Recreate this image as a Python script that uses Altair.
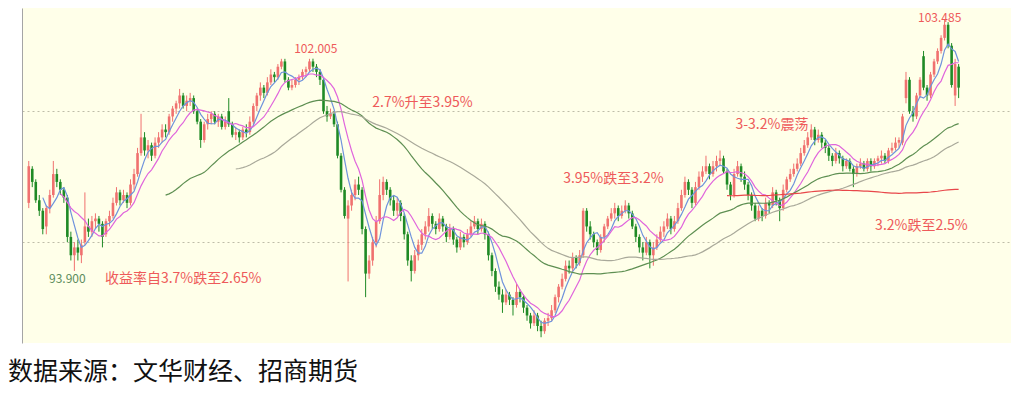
import altair as alt
import pandas as pd
import numpy as np

# ---- candle data (price), one entry per trading day ----
open_ = [
    96.5, 97.8, 97.3, 96.6, 96.2, 95.6, 96.3, 96.8, 97.6, 97.3,
    97.0, 96.7, 95.2, 94.5, 94.8, 94.5, 95.0, 95.6, 95.4, 95.8,
    95.9, 95.7, 95.3, 95.8, 96.0, 96.5, 96.9, 96.6, 96.8, 96.5,
    97.2, 97.6, 98.4, 99.0, 98.5, 98.7, 98.3, 98.8, 99.0, 99.3,
    99.2, 99.8, 100.1, 100.3, 100.6, 100.2, 100.4, 100.5, 100.0, 99.6,
    98.9, 99.5, 99.7, 99.9, 99.6, 99.8, 99.4, 100.0, 99.5, 99.1,
    99.2, 99.0, 99.3, 99.2, 99.6, 100.2, 100.6, 100.9, 100.7, 101.1,
    101.4, 101.3, 101.7, 101.9, 101.2, 100.9, 101.0, 101.2, 101.3, 101.5,
    101.6, 101.9, 101.7, 101.5, 101.2, 100.0, 99.8, 99.9, 99.5, 98.3,
    97.0, 95.9, 96.4, 96.8, 97.2, 97.0, 95.5, 93.8, 94.3, 95.0,
    95.8, 96.8, 97.3, 97.0, 96.6, 96.2, 96.5, 96.0, 95.3, 94.3,
    93.9, 94.5, 94.9, 95.3, 95.6, 96.0, 95.7, 95.5, 95.9, 95.6,
    95.2, 95.5, 95.1, 94.8, 95.2, 95.0, 95.3, 95.6, 95.8, 95.5,
    95.7, 95.3, 94.5, 93.9, 93.3, 93.0, 92.7, 93.0, 92.8, 92.6,
    93.1, 92.9, 92.5, 92.2, 91.9, 92.2, 91.8, 91.6, 92.0, 92.1,
    92.4, 92.9, 93.3, 93.6, 94.1, 94.0, 94.4, 94.2, 94.5, 96.2,
    95.6, 95.3, 95.0, 94.7, 95.2, 95.6, 95.9, 96.1, 96.3, 96.0,
    96.2, 96.4, 96.1, 95.6, 95.2, 94.8, 94.6, 95.0, 94.5, 94.8,
    95.1, 95.4, 95.6, 95.9, 95.5, 95.8, 96.3, 96.8, 97.3, 97.0,
    96.5, 97.1, 97.5, 97.7, 97.9, 97.6, 97.9, 98.1, 98.2, 97.7,
    97.2, 96.8, 97.6, 97.9, 97.5, 97.2, 96.8, 96.4, 95.9, 96.2,
    96.0, 96.5, 96.4, 96.9, 96.6, 96.3, 97.0, 97.4, 97.6, 97.8,
    98.0, 98.4, 98.7, 99.0, 99.3, 98.9, 99.1, 98.8, 98.6, 98.3,
    98.1, 98.4, 98.2, 97.9, 98.1, 97.8, 97.6, 97.9, 98.0, 97.8,
    98.1, 97.9, 98.1, 98.2, 98.3, 98.1, 98.5, 98.6, 98.8, 98.8,
    100.5, 101.2, 100.0, 99.8, 100.6, 102.1, 100.9, 100.6, 101.4, 101.9,
    102.3, 102.8, 103.3, 102.5, 100.6, 101.7,
]
high = [
    98.1, 97.9, 97.4, 96.8, 96.3, 96.4, 97.0, 98.1, 97.8, 97.4,
    97.1, 96.8, 95.4, 95.0, 95.1, 95.1, 96.9, 95.9, 96.0, 96.1,
    96.0, 95.8, 95.9, 96.2, 96.7, 97.1, 97.0, 97.0, 96.9, 97.4,
    97.8, 98.6, 99.9, 99.2, 98.9, 98.8, 99.0, 99.2, 99.5, 99.5,
    99.9, 100.2, 100.4, 100.85, 100.7, 100.6, 100.7, 100.6, 100.1, 99.7,
    99.6, 99.9, 100.0, 100.0, 99.9, 99.9, 99.8, 100.5, 99.6, 99.4,
    99.3, 99.4, 99.5, 99.8, 100.3, 100.7, 101.1, 101.0, 101.3, 101.6,
    101.5, 101.8, 102.0, 102.0, 101.3, 101.2, 101.3, 101.4, 101.6, 101.7,
    102.0, 102.005, 101.8, 101.6, 101.3, 100.2, 100.1, 100.0, 99.6, 98.4,
    97.1, 96.6, 97.0, 97.4, 97.5, 97.1, 95.6, 94.5, 95.2, 96.0,
    97.4, 97.5, 97.4, 97.1, 96.8, 96.7, 96.6, 96.1, 95.4, 94.5,
    94.7, 95.1, 95.5, 95.8, 96.3, 96.1, 95.8, 96.1, 96.0, 95.7,
    95.7, 95.6, 95.2, 95.4, 95.3, 95.5, 95.8, 96.0, 95.9, 95.9,
    95.8, 95.4, 94.6, 94.0, 93.5, 93.2, 93.2, 93.1, 92.9, 93.4,
    93.2, 93.0, 92.6, 92.3, 92.4, 92.3, 92.0, 92.1, 92.3, 92.6,
    93.0, 93.4, 93.8, 94.3, 94.3, 94.6, 94.5, 94.7, 96.3, 96.3,
    95.8, 95.4, 95.1, 95.3, 95.7, 96.0, 96.3, 96.5, 96.4, 96.4,
    96.6, 96.5, 96.2, 95.7, 95.3, 95.0, 95.2, 95.1, 95.0, 95.3,
    95.6, 95.8, 96.1, 96.0, 96.0, 96.5, 97.0, 97.5, 97.4, 97.1,
    97.3, 97.7, 97.9, 98.3, 98.0, 98.1, 98.3, 98.5, 98.3, 97.8,
    97.3, 97.8, 98.1, 98.0, 97.7, 97.3, 96.9, 96.5, 96.4, 96.3,
    96.7, 96.6, 97.1, 97.0, 96.7, 97.2, 97.5, 97.8, 98.0, 98.2,
    98.6, 98.9, 99.2, 99.5, 99.4, 99.3, 99.2, 98.9, 98.7, 98.4,
    98.6, 98.5, 98.3, 98.2, 98.2, 97.9, 98.0, 98.2, 98.1, 98.2,
    98.2, 98.2, 98.3, 98.5, 98.4, 98.6, 98.8, 99.0, 99.0, 99.9,
    101.5, 101.3, 100.2, 100.7, 101.3, 102.3, 101.0, 101.5, 102.0, 102.4,
    102.9, 103.485, 103.4, 102.6, 102.0, 101.8,
]
low = [
    96.3, 97.1, 96.5, 96.0, 95.3, 95.3, 96.1, 96.7, 97.1, 96.8,
    96.5, 95.0, 94.3, 93.9, 94.3, 94.2, 94.9, 95.2, 95.2, 95.5,
    95.4, 94.8, 95.2, 95.6, 95.9, 96.4, 96.4, 96.5, 96.3, 96.4,
    97.0, 97.5, 98.3, 98.3, 98.2, 98.1, 98.2, 98.6, 98.8, 99.0,
    99.1, 99.6, 99.9, 100.1, 100.1, 100.0, 100.2, 99.9, 99.5, 98.6,
    98.8, 99.3, 99.5, 99.5, 99.4, 99.3, 99.3, 99.4, 99.0, 98.9,
    98.8, 98.9, 99.0, 99.1, 99.5, 100.0, 100.4, 100.5, 100.6, 101.0,
    101.1, 101.2, 101.6, 101.1, 100.8, 100.8, 100.9, 101.0, 101.2, 101.3,
    101.5, 101.5, 101.3, 101.0, 99.9, 99.6, 99.7, 99.4, 98.2, 96.9,
    95.9, 93.5, 96.2, 96.6, 96.8, 95.3, 92.9, 93.6, 94.1, 94.8,
    95.7, 96.6, 96.8, 96.4, 96.0, 96.0, 95.8, 95.1, 94.1, 93.5,
    93.8, 94.3, 94.7, 95.1, 95.4, 95.5, 95.3, 95.4, 95.4, 95.0,
    95.1, 94.9, 94.6, 94.7, 94.8, 94.9, 95.2, 95.5, 95.3, 95.4,
    95.1, 94.3, 93.7, 93.1, 92.8, 92.3, 92.6, 92.6, 92.2, 92.5,
    92.7, 92.3, 92.0, 91.7, 91.8, 91.6, 91.37, 91.5, 91.8, 92.0,
    92.3, 92.7, 93.2, 93.5, 93.8, 93.9, 94.0, 94.1, 94.4, 95.4,
    95.1, 94.8, 94.5, 94.6, 95.0, 95.5, 95.8, 95.9, 95.8, 95.9,
    96.1, 95.9, 95.5, 95.0, 94.6, 94.3, 94.5, 94.0, 94.1, 94.7,
    95.0, 95.2, 95.5, 95.3, 95.4, 95.7, 96.2, 96.7, 96.8, 96.3,
    96.4, 97.0, 97.3, 97.6, 97.4, 97.5, 97.7, 97.9, 97.6, 97.0,
    96.6, 96.7, 97.5, 97.3, 97.0, 96.6, 96.2, 95.8, 95.8, 95.8,
    95.9, 96.1, 96.3, 96.4, 95.8, 96.2, 96.9, 97.3, 97.5, 97.7,
    97.9, 98.3, 98.6, 98.9, 98.7, 98.8, 98.6, 98.4, 98.1, 97.9,
    98.0, 98.0, 97.7, 97.8, 97.7, 97.1, 97.5, 97.8, 97.7, 97.7,
    97.7, 97.8, 97.9, 98.0, 98.0, 98.0, 98.4, 98.5, 98.6, 98.7,
    100.3, 99.9, 99.6, 99.7, 100.5, 100.8, 100.4, 100.5, 101.3, 101.8,
    102.2, 102.7, 102.4, 100.9, 100.2, 100.5,
]
close = [
    97.9, 97.3, 96.6, 96.2, 95.5, 96.3, 96.8, 97.6, 97.3, 97.0,
    96.7, 95.2, 94.5, 94.8, 94.6, 94.9, 95.6, 95.4, 95.8, 95.9,
    95.7, 95.2, 95.8, 96.0, 96.5, 96.9, 96.6, 96.8, 96.5, 97.2,
    97.6, 98.4, 99.0, 98.5, 98.7, 98.3, 98.8, 99.0, 99.3, 99.2,
    99.8, 100.1, 100.3, 100.6, 100.2, 100.4, 100.5, 100.0, 99.6, 98.9,
    99.5, 99.7, 99.9, 99.6, 99.8, 99.4, 99.6, 99.5, 99.1, 99.2,
    99.0, 99.3, 99.2, 99.6, 100.2, 100.6, 100.9, 100.7, 101.1, 101.4,
    101.3, 101.7, 101.9, 101.2, 100.9, 101.0, 101.2, 101.3, 101.5, 101.6,
    101.9, 101.7, 101.5, 101.2, 100.0, 99.8, 99.9, 99.5, 98.3, 97.0,
    96.0, 96.4, 96.8, 97.2, 97.0, 95.5, 93.8, 94.3, 95.0, 95.8,
    96.8, 97.3, 97.0, 96.6, 96.2, 96.5, 96.0, 95.3, 94.3, 93.9,
    94.5, 94.9, 95.3, 95.6, 96.0, 95.7, 95.5, 95.9, 95.6, 95.2,
    95.5, 95.1, 94.8, 95.2, 95.0, 95.3, 95.6, 95.8, 95.5, 95.7,
    95.3, 94.5, 93.9, 93.3, 93.0, 92.7, 93.0, 92.8, 92.6, 93.1,
    92.9, 92.5, 92.2, 91.9, 92.2, 91.8, 91.6, 92.0, 92.1, 92.4,
    92.9, 93.3, 93.6, 94.1, 94.0, 94.4, 94.2, 94.5, 96.2, 95.6,
    95.3, 95.0, 94.7, 95.2, 95.6, 95.9, 96.1, 96.3, 96.0, 96.2,
    96.4, 96.1, 95.6, 95.2, 94.8, 94.6, 95.0, 94.5, 94.8, 95.1,
    95.4, 95.6, 95.9, 95.5, 95.8, 96.3, 96.8, 97.3, 97.0, 96.5,
    97.1, 97.5, 97.7, 97.9, 97.6, 97.9, 98.1, 98.2, 97.7, 97.2,
    96.8, 97.6, 97.9, 97.5, 97.2, 96.8, 96.4, 95.9, 96.2, 96.0,
    96.5, 96.4, 96.9, 96.6, 96.3, 97.0, 97.4, 97.6, 97.8, 98.0,
    98.4, 98.7, 99.0, 99.3, 98.9, 99.1, 98.8, 98.6, 98.3, 98.1,
    98.4, 98.2, 97.9, 98.1, 97.8, 97.6, 97.9, 98.0, 97.8, 98.1,
    97.9, 98.1, 98.2, 98.3, 98.1, 98.5, 98.6, 98.8, 98.9, 99.8,
    101.2, 100.0, 99.8, 100.6, 101.2, 100.9, 100.6, 101.4, 101.9, 102.3,
    102.8, 103.3, 102.5, 101.0, 101.8, 100.9,
]

ma_periods = [5, 10, 40, 60, 200]
ma_colors = ["#6F93DC", "#E065DC", "#5E8F52", "#A9A99A", "#E8474A"]

ann_center_text = ["102.005", "103.485", "93.900"]
ann_center_x = [81.8, 259.6, 11.0]
ann_center_y = [102.37, 103.57, 93.59]
ann_center_color = ["#EE5A5A", "#EE5A5A", "#5C8C5C"]

ann_left_text = ["收益率自3.7%跌至2.65%", "2.7%升至3.95%", "3.95%跌至3.2%", "3-3.2%震荡", "3.2%跌至2.5%"]
ann_left_x = [21.7, 97.9, 152.3, 201.4, 241.2]
ann_left_y = [93.59, 100.30, 97.40, 99.47, 95.61]

caption = "数据来源：文华财经、招商期货"

n = len(close)
assert len(open_) == n and len(high) == n and len(low) == n

df = pd.DataFrame({"i": np.arange(n), "open": open_, "high": high, "low": low, "close": close})
df["dir"] = np.where(df["close"] >= df["open"], "up", "down")

RED = "#F0716F"
GREEN = "#1F8A25"
FONT = "Noto Sans CJK SC"

xs = alt.Scale(domain=[-0.5, 278.5], nice=False, zero=False)
ys = alt.Scale(domain=[91.15, 103.94], nice=False, zero=False)
yaxis = alt.Axis(values=[95, 100], grid=True, gridDash=[2, 3], gridColor="#BEBDA8",
                 gridWidth=1, labels=False, ticks=False, domain=True,
                 domainColor="#A5A5A5", title=None)


def X(field):
    return alt.X(field, type="quantitative", scale=xs, axis=None)


def Y(field):
    return alt.Y(field, type="quantitative", scale=ys, axis=yaxis)


cscale = alt.Scale(domain=["up", "down"], range=[RED, GREEN])

base = alt.Chart(df)
wicks = base.mark_rule(strokeWidth=1).encode(
    x=X("i"), y=Y("low"), y2="high:Q",
    color=alt.Color("dir:N", scale=cscale, legend=None))
bodies = base.mark_bar(size=2.6).encode(
    x=X("i"), y=Y("open"), y2="close:Q",
    color=alt.Color("dir:N", scale=cscale, legend=None))

layers = [wicks, bodies]
for p, c in zip(ma_periods, ma_colors):
    m = pd.DataFrame({"i": np.arange(n), "ma": pd.Series(close).rolling(p).mean()}).dropna()
    layers.append(alt.Chart(m).mark_line(color=c, strokeWidth=1.2).encode(
        x=X("i"), y=Y("ma")))

ac = pd.DataFrame({"x": ann_center_x, "y": ann_center_y, "t": ann_center_text, "c": ann_center_color})
layers.append(alt.Chart(ac).mark_text(font=FONT, fontSize=12, align="center", baseline="middle").encode(
    x=X("x"), y=Y("y"), text="t:N",
    color=alt.Color("c:N", scale=None)))

al = pd.DataFrame({"x": ann_left_x, "y": ann_left_y, "t": ann_left_text})
layers.append(alt.Chart(al).mark_text(font=FONT, fontSize=14, align="left", baseline="middle",
                                      color="#EE5A5A").encode(
    x=X("x"), y=Y("y"), text="t:N"))

cap = pd.DataFrame({"t": [caption]})
layers.append(alt.Chart(cap).mark_text(font=FONT, fontSize=25, align="left", baseline="middle",
                                       color="#111111").encode(
    x=alt.value(-14), y=alt.value(364), text="t:N"))

chart = alt.layer(*layers).properties(
    width=989, height=335,
    autosize=alt.AutoSizeParams(type="none"),
    padding={"left": 14, "top": 0, "right": 0, "bottom": 60},
    background="white",
).configure_view(fill="#FFFFE9", stroke=None)

chart.save("out.html", embed_options={"renderer": "svg", "actions": False})
